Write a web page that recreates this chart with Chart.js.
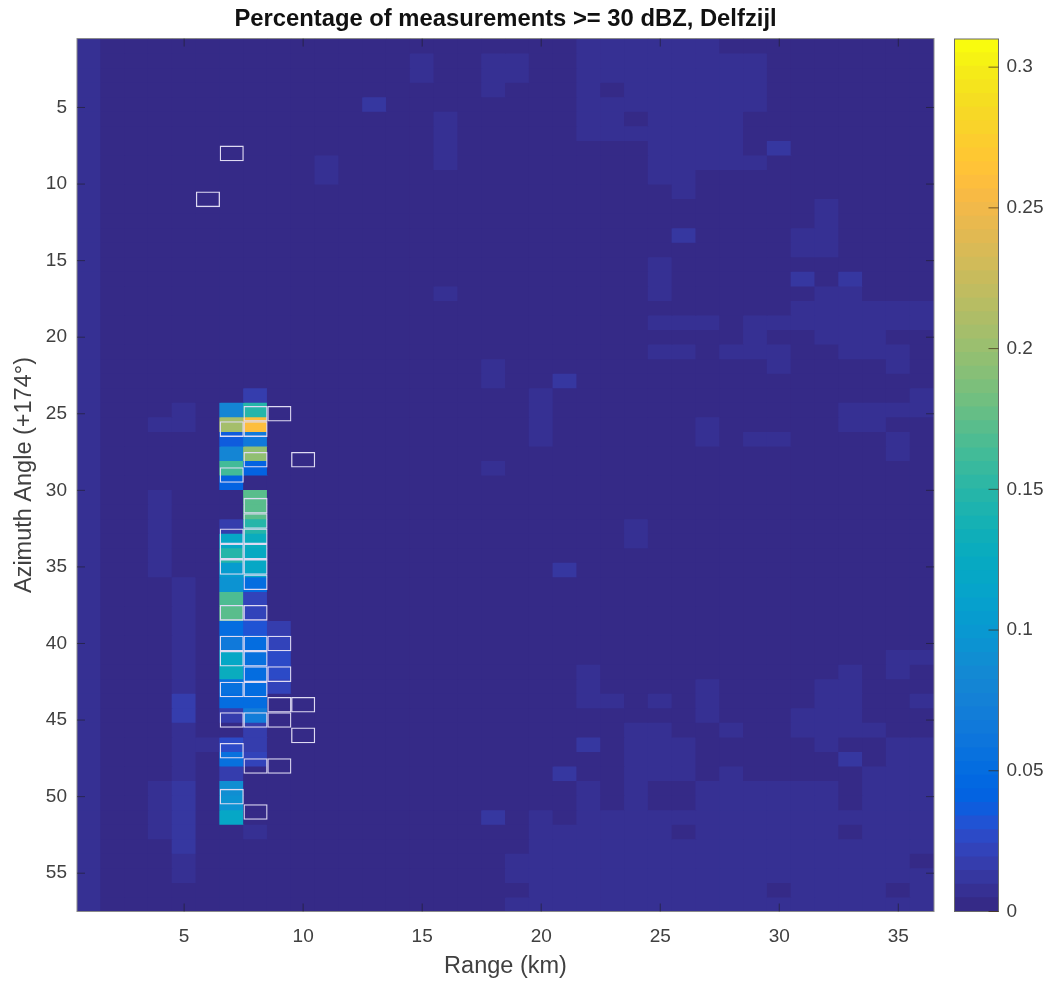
<!DOCTYPE html>
<html>
  <head>
    <title>Percentage of measurements</title>
    <script src="https://cdn.jsdelivr.net/npm/chart.js"></script>
    <style>
      body { margin: 0; background: #fff; }
      #heat { position: absolute; left: 0; top: 0; }
      #bar { position: absolute; left: 940px; top: 0; }
    </style>
  </head>
  <body>
    <canvas id="heat" width="1049" height="985"></canvas>
    <canvas id="bar" width="109" height="985"></canvas>

    <script>
      const rangeKm = [];
      for (let i = 1; i <= 36; i++) rangeKm.push(i);
      const rangeTicks = [5, 10, 15, 20, 25, 30, 35];
      const angleTicks = [5, 10, 15, 20, 25, 30, 35, 40, 45, 50, 55];
      const colorTicks = [0, 0.05, 0.1, 0.15, 0.2, 0.25, 0.3];
      const colorMax = 0.31;

      // share of measurements in 1/1000, one row per azimuth bin, one value per km
      const rows = [
        [9,2,2,2,2,2,2,2,2,2,2,2,2,2,2,2,2,2,2,2,2,7,7,7,7,7,7,2,2,2,2,2,2,2,2,2],
        [9,2,2,2,2,2,2,2,2,2,2,2,2,2,7,2,2,7,7,2,2,7,7,7,7,7,7,7,7,2,2,2,2,2,2,2],
        [9,2,2,2,2,2,2,2,2,2,2,2,2,2,7,2,2,7,7,2,2,7,7,7,7,7,7,7,7,2,2,2,2,2,2,2],
        [9,2,2,2,2,2,2,2,2,2,2,2,2,2,2,2,2,7,2,2,2,7,2,7,7,7,7,7,7,2,2,2,2,2,2,2],
        [9,2,2,2,2,2,2,2,2,2,2,2,12,2,2,2,2,2,2,2,2,7,7,7,7,7,7,7,7,2,2,2,2,2,2,2],
        [9,2,2,2,2,2,2,2,2,2,2,2,2,2,2,7,2,2,2,2,2,7,7,2,7,7,7,7,2,2,2,2,2,2,2,2],
        [9,2,2,2,2,2,2,2,2,2,2,2,2,2,2,7,2,2,2,2,2,7,7,7,7,7,7,7,2,2,2,2,2,2,2,2],
        [9,2,2,2,2,2,2,2,2,2,2,2,2,2,2,7,2,2,2,2,2,2,2,2,7,7,7,7,2,12,2,2,2,2,2,2],
        [9,2,2,2,2,2,2,2,2,2,7,2,2,2,2,7,2,2,2,2,2,2,2,2,7,7,7,7,7,2,2,2,2,2,2,2],
        [9,2,2,2,2,2,2,2,2,2,7,2,2,2,2,2,2,2,2,2,2,2,2,2,7,7,2,2,2,2,2,2,2,2,2,2],
        [9,2,2,2,2,2,2,2,2,2,2,2,2,2,2,2,2,2,2,2,2,2,2,2,2,7,2,2,2,2,2,2,2,2,2,2],
        [9,2,2,2,2,2,2,2,2,2,2,2,2,2,2,2,2,2,2,2,2,2,2,2,2,2,2,2,2,2,2,7,2,2,2,2],
        [9,2,2,2,2,2,2,2,2,2,2,2,2,2,2,2,2,2,2,2,2,2,2,2,2,2,2,2,2,2,2,7,2,2,2,2],
        [9,2,2,2,2,2,2,2,2,2,2,2,2,2,2,2,2,2,2,2,2,2,2,2,2,12,2,2,2,2,7,7,2,2,2,2],
        [9,2,2,2,2,2,2,2,2,2,2,2,2,2,2,2,2,2,2,2,2,2,2,2,2,2,2,2,2,2,7,7,2,2,2,2],
        [9,2,2,2,2,2,2,2,2,2,2,2,2,2,2,2,2,2,2,2,2,2,2,2,7,2,2,2,2,2,2,2,2,2,2,2],
        [9,2,2,2,2,2,2,2,2,2,2,2,2,2,2,2,2,2,2,2,2,2,2,2,7,2,2,2,2,2,12,2,12,2,2,2],
        [9,2,2,2,2,2,2,2,2,2,2,2,2,2,2,7,2,2,2,2,2,2,2,2,7,2,2,2,2,2,2,7,7,2,2,2],
        [9,2,2,2,2,2,2,2,2,2,2,2,2,2,2,2,2,2,2,2,2,2,2,2,2,2,2,2,2,2,7,7,7,7,7,7],
        [9,2,2,2,2,2,2,2,2,2,2,2,2,2,2,2,2,2,2,2,2,2,2,2,7,7,7,2,7,7,7,7,7,7,7,7],
        [9,2,2,2,2,2,2,2,2,2,2,2,2,2,2,2,2,2,2,2,2,2,2,2,2,2,2,2,7,2,2,7,7,7,2,2],
        [9,2,2,2,2,2,2,2,2,2,2,2,2,2,2,2,2,2,2,2,2,2,2,2,7,7,2,7,7,7,2,2,7,7,7,2],
        [9,2,2,2,2,2,2,2,2,2,2,2,2,2,2,2,2,7,2,2,2,2,2,2,2,2,2,2,2,7,2,2,2,2,7,2],
        [9,2,2,2,2,2,2,2,2,2,2,2,2,2,2,2,2,7,2,2,12,2,2,2,2,2,2,2,2,2,2,2,2,2,2,2],
        [9,2,2,2,2,2,2,18,2,2,2,2,2,2,2,2,2,2,2,7,2,2,2,2,2,2,2,2,2,2,2,2,2,2,2,7],
        [9,2,2,2,7,2,80,150,2,2,2,2,2,2,2,2,2,2,2,7,2,2,2,2,2,2,2,2,2,2,2,2,7,7,7,7],
        [9,2,2,7,7,2,206,258,2,2,2,2,2,2,2,2,2,2,2,7,2,2,2,2,2,2,7,2,2,2,2,2,7,7,2,2],
        [9,2,2,2,2,2,37,65,2,2,2,2,2,2,2,2,2,2,2,7,2,2,2,2,2,2,7,2,7,7,2,2,2,2,7,2],
        [9,2,2,2,2,2,78,195,2,2,2,2,2,2,2,2,2,2,2,2,2,2,2,2,2,2,2,2,2,2,2,2,2,2,7,2],
        [9,2,2,2,2,2,162,40,2,2,2,2,2,2,2,2,2,7,2,2,2,2,2,2,2,2,2,2,2,2,2,2,2,2,2,2],
        [9,2,2,2,2,2,40,2,2,2,2,2,2,2,2,2,2,2,2,2,2,2,2,2,2,2,2,2,2,2,2,2,2,2,2,2],
        [9,2,2,7,2,2,2,172,2,2,2,2,2,2,2,2,2,2,2,2,2,2,2,2,2,2,2,2,2,2,2,2,2,2,2,2],
        [9,2,2,7,2,2,2,170,2,2,2,2,2,2,2,2,2,2,2,2,2,2,2,2,2,2,2,2,2,2,2,2,2,2,2,2],
        [9,2,2,7,2,2,17,147,2,2,2,2,2,2,2,2,2,2,2,2,2,2,2,7,2,2,2,2,2,2,2,2,2,2,2,2],
        [9,2,2,7,2,2,118,130,2,2,2,2,2,2,2,2,2,2,2,2,2,2,2,7,2,2,2,2,2,2,2,2,2,2,2,2],
        [9,2,2,7,2,2,147,125,2,2,2,2,2,2,2,2,2,2,2,2,2,2,2,2,2,2,2,2,2,2,2,2,2,2,2,2],
        [9,2,2,7,2,2,105,118,2,2,2,2,2,2,2,2,2,2,2,2,12,2,2,2,2,2,2,2,2,2,2,2,2,2,2,2],
        [9,2,2,2,7,2,95,53,2,2,2,2,2,2,2,2,2,2,2,2,2,2,2,2,2,2,2,2,2,2,2,2,2,2,2,2],
        [9,2,2,2,7,2,167,20,2,2,2,2,2,2,2,2,2,2,2,2,2,2,2,2,2,2,2,2,2,2,2,2,2,2,2,2],
        [9,2,2,2,7,2,172,22,2,2,2,2,2,2,2,2,2,2,2,2,2,2,2,2,2,2,2,2,2,2,2,2,2,2,2,2],
        [9,2,2,2,7,2,52,30,17,2,2,2,2,2,2,2,2,2,2,2,2,2,2,2,2,2,2,2,2,2,2,2,2,2,2,2],
        [9,2,2,2,7,2,63,50,20,2,2,2,2,2,2,2,2,2,2,2,2,2,2,2,2,2,2,2,2,2,2,2,2,2,2,2],
        [9,2,2,2,7,2,118,55,28,2,2,2,2,2,2,2,2,2,2,2,2,2,2,2,2,2,2,2,2,2,2,2,2,2,7,7],
        [9,2,2,2,7,2,128,50,28,2,2,2,2,2,2,2,2,2,2,2,2,7,2,2,2,2,2,2,2,2,2,2,7,2,7,2],
        [9,2,2,2,7,2,55,52,22,2,2,2,2,2,2,2,2,2,2,2,2,7,2,2,2,2,7,2,2,2,2,7,7,2,2,2],
        [9,2,2,2,17,2,50,50,2,2,2,2,2,2,2,2,2,2,2,2,2,7,7,2,7,2,7,2,2,2,2,7,7,2,2,7],
        [9,2,2,2,17,2,19,72,2,2,2,2,2,2,2,2,2,2,2,2,2,2,2,2,2,2,7,2,2,2,7,7,7,2,2,2],
        [9,2,2,2,7,2,2,17,2,2,2,2,2,2,2,2,2,2,2,2,2,2,2,7,7,2,2,7,2,2,7,7,7,7,2,2],
        [9,2,2,2,7,7,28,17,2,2,2,2,2,2,2,2,2,2,2,2,2,12,2,7,7,7,2,2,2,2,2,7,2,2,7,7],
        [9,2,2,2,7,2,58,24,2,2,2,2,2,2,2,2,2,2,2,2,2,2,2,7,7,7,2,2,2,2,2,2,12,2,7,7],
        [9,2,2,2,7,2,19,2,2,2,2,2,2,2,2,2,2,2,2,2,12,2,2,7,7,7,2,7,2,2,2,2,2,7,7,7],
        [9,2,2,7,12,2,90,2,2,2,2,2,2,2,2,2,2,2,2,2,2,7,2,7,2,2,7,7,7,7,7,7,2,7,7,7],
        [9,2,2,7,12,2,95,2,2,2,2,2,2,2,2,2,2,2,2,2,2,7,2,7,2,2,7,7,7,7,7,7,2,7,7,7],
        [9,2,2,7,12,2,118,2,2,2,2,2,2,2,2,2,2,12,2,7,2,7,7,7,7,7,7,7,7,7,7,7,7,7,7,7],
        [9,2,2,7,12,2,2,7,2,2,2,2,2,2,2,2,2,2,2,7,7,7,7,7,7,2,7,7,7,7,7,7,2,7,7,7],
        [9,2,2,2,12,2,2,2,2,2,2,2,2,2,2,2,2,2,2,7,7,7,7,7,7,7,7,7,7,7,7,7,7,7,7,7],
        [9,2,2,2,7,2,2,2,2,2,2,2,2,2,2,2,2,2,7,7,7,7,7,7,7,7,7,7,7,7,7,7,7,7,7,2],
        [9,2,2,2,7,2,2,2,2,2,2,2,2,2,2,2,2,2,7,7,7,7,7,7,7,7,7,7,7,7,7,7,7,7,7,7],
        [9,2,2,2,2,2,2,2,2,2,2,2,2,2,2,2,2,2,2,7,7,7,7,7,7,7,7,7,7,2,7,7,7,7,2,7],
        [9,2,2,2,2,2,2,2,2,2,2,2,2,2,2,2,2,2,7,7,7,7,7,7,7,7,7,7,7,7,7,7,7,7,7,7],
      ];

      // white outlined cells: range bin and azimuth angle
      const boxRange = [7, 6, 8, 9, 7, 8, 8, 10, 7, 8, 8, 7, 8, 7, 8, 7, 8, 8, 7, 8, 7, 8, 9, 7, 8, 8, 9, 7, 8, 9, 10, 7, 8, 9, 10, 7, 8, 9, 7, 8];
      const boxAngle = [8, 11, 25, 25, 26, 26, 28, 28, 29, 31, 32, 33, 33, 34, 34, 35, 35, 36, 38, 38, 40, 40, 40, 41, 41, 42, 42, 43, 43, 44, 44, 45, 45, 45, 46, 47, 48, 48, 50, 51];

      const parula = [
        "#352a87", "#363093", "#3637a0", "#353dad", "#3243ba", "#2c4ac7", "#2053d4", "#0f5cdd",
        "#0363e1", "#0268e1", "#046de0", "#0871de", "#0d75dc", "#1079da", "#127dd8", "#1481d6",
        "#1485d4", "#1389d3", "#108ed2", "#0c93d2", "#0998d1", "#079ccf", "#06a0cd", "#06a4ca",
        "#06a7c6", "#07a9c2", "#0aacbe", "#0faeb9", "#15b1b4", "#1db3af", "#25b5a9", "#2eb7a4",
        "#38b99e", "#42bb98", "#4dbc92", "#59bd8c", "#65be86", "#71bf80", "#7cbf7b", "#87bf77",
        "#91bf72", "#9bbf6f", "#a5be6b", "#aebd67", "#b7bd63", "#c0bc60", "#c8bb5c", "#d1bb59",
        "#d9ba56", "#e1b952", "#e9b94e", "#f1b94a", "#f8ba44", "#fdbe3d", "#ffc337", "#fec832",
        "#fccd2e", "#f9d32a", "#f7d826", "#f5de21", "#f5e41d", "#f5eb18", "#f6f313", "#f9fb0e",
      ];

      function colorFor(value) {
        return parula[Math.min(63, Math.floor((value / colorMax) * 64))];
      }

      const textColor = "#404040";
      const tickFont = { family: "'Liberation Sans', Arial", size: 19 };
      const labelFont = { family: "'Liberation Sans', Arial", size: 23.5 };

      // thin frame with inward tick marks, the way the original axes look
      const axesFrame = {
        id: "axesFrame",
        afterDatasetsDraw(chart, args, opts) {
          const a = chart.chartArea;
          const ctx = chart.ctx;
          ctx.save();
          ctx.strokeStyle = opts.color;
          ctx.lineWidth = 1;
          ctx.strokeRect(a.left, a.top, a.right - a.left, a.bottom - a.top);
          ctx.strokeStyle = opts.tickColor;
          ctx.beginPath();
          if (opts.horizontal) {
            chart.scales.x.ticks.forEach((t, i) => {
              const p = chart.scales.x.getPixelForTick(i);
              ctx.moveTo(p, a.bottom);
              ctx.lineTo(p, a.bottom - opts.length);
              ctx.moveTo(p, a.top);
              ctx.lineTo(p, a.top + opts.length);
            });
          }
          chart.scales.y.ticks.forEach((t, i) => {
            const p = chart.scales.y.getPixelForTick(i);
            if (opts.horizontal) {
              ctx.moveTo(a.left, p);
              ctx.lineTo(a.left + opts.length, p);
            }
            ctx.moveTo(a.right, p);
            ctx.lineTo(a.right - opts.length, p);
          });
          ctx.stroke();
          ctx.restore();
        },
      };

      const heatSets = rows.map((row, k) => ({
        data: row.map(() => [k, k + 1]),
        backgroundColor: row.map((v) => colorFor(v / 1000)),
        yAxisID: "yHeat",
        grouped: false,
        barPercentage: 1,
        categoryPercentage: 1,
        borderWidth: 0,
        inflateAmount: 0.5,
        order: 1,
      }));

      const boxSet = {
        data: boxRange.map((r, i) => ({ x: r, y: [boxAngle[i] - 0.5, boxAngle[i] + 0.5] })),
        yAxisID: "y",
        grouped: false,
        barPercentage: 1,
        categoryPercentage: 1,
        backgroundColor: "rgba(0,0,0,0)",
        borderColor: "#dedaf2",
        borderWidth: 1,
        borderSkipped: false,
        inflateAmount: 0.15,
        order: 0,
      };

      new Chart(document.getElementById("heat"), {
        type: "bar",
        data: { labels: rangeKm, datasets: [boxSet].concat(heatSets) },
        plugins: [axesFrame],
        options: {
          responsive: false,
          animation: false,
          layout: { padding: { left: 0, right: 115, top: 0, bottom: 0 } },
          plugins: {
            legend: { display: false },
            tooltip: { enabled: false },
            title: {
              display: true,
              fullSize: false,
              text: "Percentage of measurements >= 30 dBZ, Delfzijl",
              color: "#111",
              font: { family: "'Liberation Sans', Arial", size: 23.8, weight: "bold" },
              padding: { top: 5, bottom: 5 },
            },
            axesFrame: { color: "#8a8a8a", tickColor: "rgba(30,30,30,0.55)", length: 8, horizontal: true },
          },
          scales: {
            x: {
              grid: { display: false, drawTicks: false },
              border: { display: false },
              afterBuildTicks(s) {
                s.ticks = s.ticks.filter((t) => rangeTicks.includes(rangeKm[t.value]));
              },
              afterFit(s) {
                s.height = 73.5;
              },
              ticks: { color: textColor, font: tickFont, padding: 14, maxRotation: 0, autoSkip: false },
              title: { display: true, text: "Range (km)", color: textColor, font: labelFont, padding: { top: 0, bottom: 4 } },
            },
            y: {
              reverse: true,
              min: 0.5,
              max: 57.5,
              grid: { display: false, drawTicks: false },
              border: { display: false },
              afterBuildTicks(s) {
                s.ticks = angleTicks.map((v) => ({ value: v }));
              },
              afterFit(s) {
                s.width = 77;
              },
              ticks: { color: textColor, font: tickFont, padding: 10 },
              title: { display: true, text: "Azimuth Angle (+174°)", color: textColor, font: labelFont, padding: { top: 10, bottom: 0 } },
            },
            yHeat: {
              display: false,
              reverse: true,
              min: 0,
              max: rows.length,
            },
          },
        },
      });

      // colour bar, one floating bar for each colour step
      const colorSets = parula.map((c, i) => ({
        data: [[(i / 64) * colorMax, ((i + 1) / 64) * colorMax]],
        backgroundColor: c,
        grouped: false,
        barPercentage: 1,
        categoryPercentage: 1,
        borderWidth: 0,
        inflateAmount: 0.5,
      }));

      new Chart(document.getElementById("bar"), {
        type: "bar",
        data: { labels: [""], datasets: colorSets },
        plugins: [axesFrame],
        options: {
          responsive: false,
          animation: false,
          layout: { padding: { left: 14.5, right: 0, top: 39, bottom: 73.5 } },
          plugins: {
            legend: { display: false },
            tooltip: { enabled: false },
            axesFrame: { color: "#6a6a6a", tickColor: "rgba(60,40,20,0.7)", length: 10, horizontal: false },
          },
          scales: {
            x: { display: false },
            y: {
              position: "right",
              min: 0,
              max: colorMax,
              grid: { display: false, drawTicks: false },
              border: { display: false },
              afterBuildTicks(s) {
                s.ticks = colorTicks.map((v) => ({ value: v }));
              },
              afterFit(s) {
                s.width = 50.5;
              },
              ticks: { color: textColor, font: tickFont, padding: 8, callback: (v) => String(v) },
            },
          },
        },
      });
    </script>
  </body>
</html>
